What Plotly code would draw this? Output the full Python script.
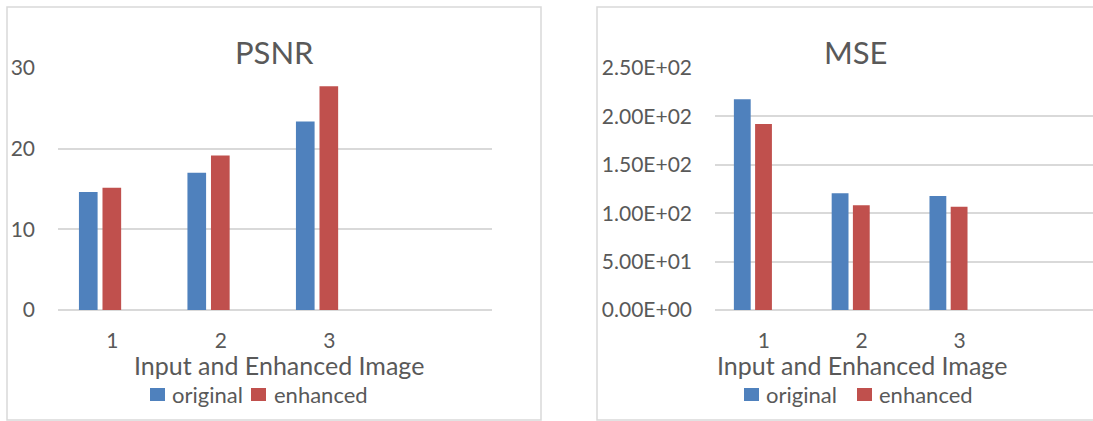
import plotly.graph_objects as go

# ---- data ----
categories = [1, 2, 3]
category_labels = ["1", "2", "3"]
series_names = ["original", "enhanced"]

psnr_original = [14.62, 17.02, 23.36]
psnr_enhanced = [15.17, 19.16, 27.73]

mse_original = [217.7, 120.5, 117.8]
mse_enhanced = [192.1, 108.1, 106.7]

psnr_ticks = [0, 10, 20, 30]
psnr_tick_labels = ["0", "10", "20", "30"]
mse_ticks = [0, 50, 100, 150, 200, 250]
mse_tick_labels = ["0.00E+00", "5.00E+01", "1.00E+02", "1.50E+02", "2.00E+02", "2.50E+02"]

x_title = "Input and Enhanced Image"

# ---- styling ----
W, H = 1093, 421
BLUE = "#4F81BD"
RED = "#C0504D"
TEXT = "#595959"
GRID = "#D9D9D9"
FONT = "Lato"
BAR_W = 0.172
OFFSETS = [-0.307, -0.090]


def px(x):
    return x / W


def py(y):
    return (H - y) / H


fig = go.Figure()

panels = [
    dict(x="x", y="y", vals=[psnr_original, psnr_enhanced]),
    dict(x="x2", y="y2", vals=[mse_original, mse_enhanced]),
]
colors = [BLUE, RED]
for p in panels:
    for name, vals, col, off in zip(series_names, p["vals"], colors, OFFSETS):
        fig.add_trace(go.Bar(
            x=categories, y=vals, name=name, xaxis=p["x"], yaxis=p["y"],
            marker=dict(color=col, line=dict(width=0)),
            width=BAR_W, offset=off, showlegend=False,
        ))

y_dom = [py(310), py(68)]
axis_font = dict(family=FONT, size=21, color=TEXT)

common_x = dict(
    tickmode="array", tickvals=categories, ticktext=category_labels,
    showgrid=False, zeroline=False, showline=False, ticks="",
    tickfont=axis_font, ticklabelstandoff=16, fixedrange=True, automargin=False,
)
common_y = dict(
    tickmode="array", showgrid=True, gridcolor=GRID, gridwidth=1.5,
    zeroline=True, zerolinecolor=GRID, zerolinewidth=1.5,
    showline=False, ticks="", tickfont=axis_font, fixedrange=True, automargin=False,
)

fig.update_layout(
    template="none",
    width=W, height=H,
    margin=dict(l=0, r=0, t=0, b=0, pad=0),
    paper_bgcolor="white", plot_bgcolor="white",
    barmode="overlay",
    showlegend=False,
    font=dict(family=FONT, color=TEXT),
    xaxis=dict(domain=[px(58), px(492)], range=[0.5, 4.5], anchor="y", **common_x),
    yaxis=dict(domain=y_dom, range=[0, 30], tickvals=psnr_ticks,
               ticktext=psnr_tick_labels, anchor="x", ticklabelstandoff=22, **common_y),
    xaxis2=dict(domain=[px(715), 1.0], range=[0.5, 0.5 + (W - 715) / 97.8],
                anchor="y2", **common_x),
    yaxis2=dict(domain=y_dom, range=[0, 250], tickvals=mse_ticks,
                ticktext=mse_tick_labels, anchor="x2", ticklabelstandoff=22, **common_y),
)

# panel frames
fig.add_shape(type="rect", xref="paper", yref="paper",
              x0=px(7), x1=px(541), y0=py(420), y1=py(7),
              line=dict(color=GRID, width=1.5), fillcolor="rgba(0,0,0,0)", layer="below")
fig.add_shape(type="rect", xref="paper", yref="paper",
              x0=px(597), x1=px(1131), y0=py(420), y1=py(7),
              line=dict(color=GRID, width=1.5), fillcolor="rgba(0,0,0,0)", layer="below")

# chart titles
for text, cx in [("PSNR", 274), ("MSE", 856)]:
    fig.add_annotation(text=text, xref="paper", yref="paper", x=px(cx), y=py(52),
                       xanchor="center", yanchor="middle", showarrow=False,
                       font=dict(family=FONT, size=31, color=TEXT))

# axis titles
for cx in [279, 862]:
    fig.add_annotation(text=x_title, xref="paper", yref="paper", x=px(cx), y=py(365),
                       xanchor="center", yanchor="middle", showarrow=False,
                       font=dict(family=FONT, size=25, color=TEXT))

# legends
legend_layout = [
    [(150, 170), (251, 272)],
    [(744, 764), (857, 877)],
]
for items in legend_layout:
    for (sq_x, tx), name, col in zip(items, series_names, colors):
        fig.add_shape(type="rect", xref="paper", yref="paper",
                      x0=px(sq_x), x1=px(sq_x + 15), y0=py(401), y1=py(388),
                      line=dict(width=0), fillcolor=col)
        fig.add_annotation(text=name, xref="paper", yref="paper", x=px(tx), y=py(394),
                           xanchor="left", yanchor="middle", showarrow=False,
                           font=dict(family=FONT, size=22, color=TEXT))

fig.write_html("out.html")
